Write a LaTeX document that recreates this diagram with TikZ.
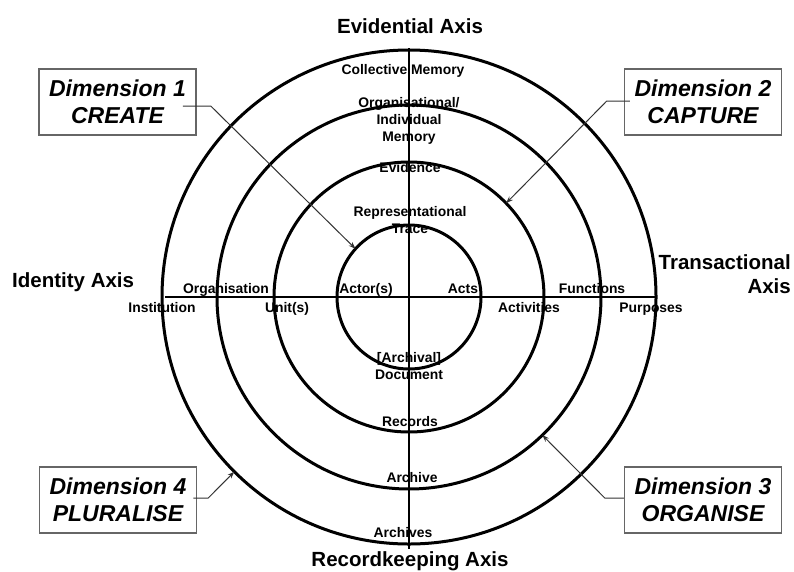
\documentclass[tikz,border=0pt]{standalone}
\usepackage{fontspec}
\setmainfont{Liberation Sans}
\usetikzlibrary{arrows.meta}
\def\cx{409}
\def\cy{297}

\begin{document}
\begin{tikzpicture}[x=1pt,y=-1pt,>={Stealth[length=7pt,width=5pt]}, every node/.append style={inner sep=0pt}]
    \tikzstyle{ring}=[circle,draw=black,line width=3pt,outer sep=0pt,inner sep=0pt]
    \tikzstyle{axis}=[draw=black,line width=2.4pt]
    \tikzstyle{axis label}=[font=\fontsize{20.5}{24}\selectfont\bfseries]
    \tikzstyle{ring label}=[anchor=base, font=\fontsize{13.9}{17}\selectfont\bfseries]
    \tikzstyle{dimension}=[draw=black!60, line width=1.5pt, minimum width=157pt, minimum height=66pt, align=center, font=\fontsize{23}{27}\selectfont\bfseries\itshape]
    \tikzstyle{pointer}=[->,draw=black!80,line width=1pt]

    \fill[white] (0,0) rectangle (794,571);
    \useasboundingbox (0,0) rectangle (794,571);

    % Draw the four rings
    \foreach \name / \d in {1/144,2/270,3/384,4/494}
        \node[ring, minimum size=\d pt] (ring-\name) at (\cx,\cy) {};

    % Draw the two axes
    \draw[axis] (\cx,48) -- (\cx,549);
    \draw[axis] (165,\cy) -- (655,\cy);

    % Name the axes
    \node[axis label, anchor=base] (evidential) at (410,33) {Evidential Axis};
    \node[axis label, anchor=base] (recordkeeping) at (410,566) {Recordkeeping Axis};
    \node[axis label, anchor=base west] (identity) at (12,287) {Identity Axis};
    \node[axis label, anchor=east, align=right] (transactional) at (791,274) {Transactional\\Axis};

    % Labels on the evidential and recordkeeping axes
    \node[ring label] (collective) at (403,74) {Collective Memory};
    \node[ring label, anchor=center, align=center] (organisational) at (409,121) {Organisational/\\Individual\\Memory};
    \node[ring label] (evidence) at (410,172) {Evidence};
    \node[ring label, anchor=center, align=center] (trace) at (410,220) {Representational\\Trace};
    \node[ring label, anchor=center, align=center] (document) at (409,366) {[Archival]\\Document};
    \node[ring label] (records) at (410,426) {Records};
    \node[ring label] (archive) at (412,482) {Archive};
    \node[ring label] (archives) at (403,537) {Archives};

    % Labels on the identity and transactional axes
    \foreach \name / \x / \y / \txt in {organisation/226/293/Organisation, actors/366/293/Actor(s), acts/463/293/Acts, functions/592/293/Functions, institution/162/312/Institution, units/287/312/Unit(s), activities/529/312/Activities, purposes/651/312/Purposes}
        \node[ring label] (\name) at (\x,\y) {\txt};

    % The four dimensions
    \node[dimension] (dim-1) at (117.5,102) {Dimension 1\\CREATE};
    \node[dimension] (dim-2) at (703,102) {Dimension 2\\CAPTURE};
    \node[dimension] (dim-3) at (703,500) {Dimension 3\\ORGANISE};
    \node[dimension] (dim-4) at (118,500) {Dimension 4\\PLURALISE};

    % Point each dimension at its ring
    \draw[pointer] ([xshift=-14pt,yshift=-4pt]dim-1.east) -- ++(28,0) -- (ring-1.138);
    \draw[pointer] ([xshift=6pt,yshift=1pt]dim-2.west) -- ++(-23,0) -- (ring-2.44);
    \draw[pointer] ([yshift=2pt]dim-3.west) -- ++(-19,0) -- (ring-3.-46);
    \draw[pointer] ([xshift=-4pt,yshift=2pt]dim-4.east) -- ++(15,0) -- (ring-4.-135);
\end{tikzpicture}
\end{document}
